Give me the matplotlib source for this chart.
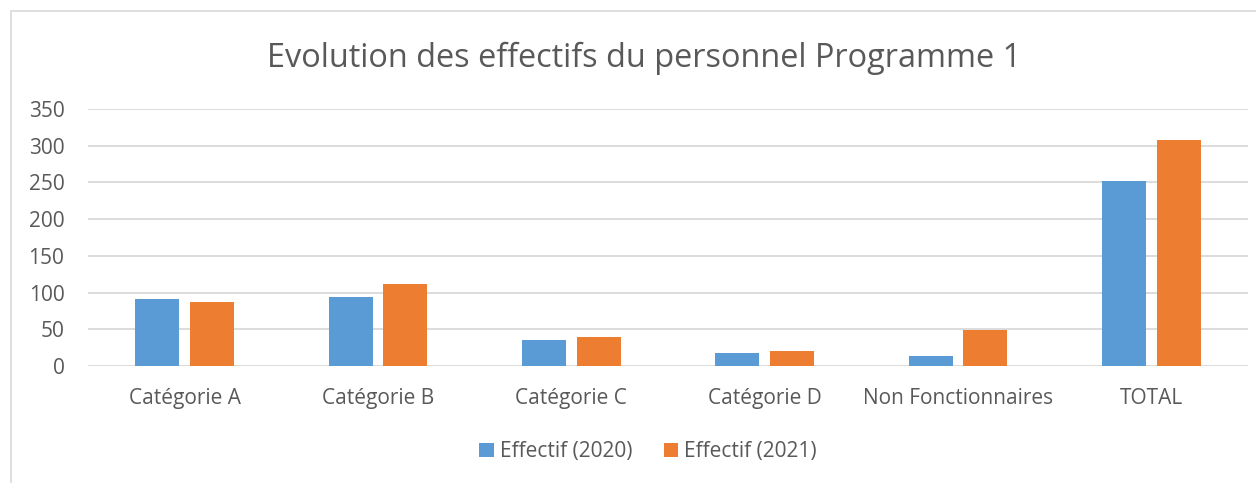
import matplotlib
matplotlib.use("Agg")
import matplotlib.pyplot as plt
from matplotlib.patches import Rectangle
import numpy as np

categories = ["Catégorie A", "Catégorie B", "Catégorie C", "Catégorie D",
              "Non Fonctionnaires", "TOTAL"]
effectif_2020 = [91, 94, 36, 18, 13, 252]
effectif_2021 = [87, 112, 40, 20, 49, 308]
series_labels = ["Effectif (2020)", "Effectif (2021)"]
yticks = [0, 50, 100, 150, 200, 250, 300, 350]

plt.rcParams['font.family'] = ['Open Sans', 'DejaVu Sans']
txt = '#595959'

fig = plt.figure(figsize=(12.56, 4.83), dpi=100)
ax = fig.add_axes([88/1256, (483-366)/483, (1248-88)/1256, (366-109)/483])

x = np.arange(len(categories))
w = 0.228
off = 0.142
b1 = ax.bar(x - off, effectif_2020, w, color='#5B9BD5', label=series_labels[0], zorder=3)
b2 = ax.bar(x + off, effectif_2021, w, color='#ED7D31', label=series_labels[1], zorder=3)

ax.set_xlim(-0.5, len(categories) - 0.5)
ax.set_ylim(0, 350)
ax.set_yticks(yticks)
ax.set_xticks(x)
ax.set_xticklabels(categories)
ax.grid(axis='y', color='#d9d9d9', linewidth=1.3, zorder=0)
for s in ax.spines.values():
    s.set_visible(False)
ax.tick_params(axis='both', length=0, labelsize=15, labelcolor=txt)
ax.tick_params(axis='y', pad=17)
ax.tick_params(axis='x', pad=15.5)

fig.text(0.513, (483-67)/483, "Evolution des effectifs du personnel Programme 1",
         ha='center', va='baseline', fontsize=23.4, color=txt)

fig.legend(handles=[b1, b2], labels=series_labels, loc='center',
           bbox_to_anchor=(648/1256, (483-451.5)/483), ncol=2, frameon=False,
           fontsize=15, labelcolor=txt, handlelength=0.68, handleheight=0.68,
           handletextpad=0.3, columnspacing=1.5)

# chart border
fig.add_artist(Rectangle((11/1256, -0.1), 1.2, (483-11)/483 + 0.1,
                         transform=fig.transFigure, fill=False,
                         edgecolor='#d9d9d9', linewidth=1.2))

fig.savefig("out.png", dpi=100)
